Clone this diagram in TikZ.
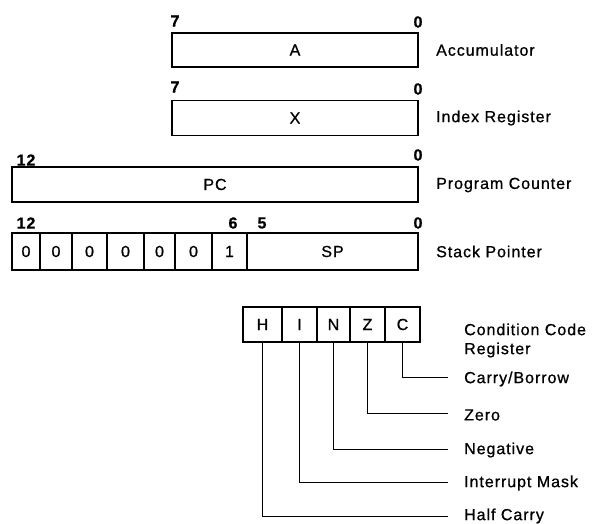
\documentclass[tikz,border=0pt]{standalone}
\usepackage{fontspec}
\setmainfont{Liberation Sans}[LetterSpace=6,FakeBold=0.8]
\begin{document}
\begin{tikzpicture}[x=1pt,y=-1pt,
  txt/.style={font=\fontsize{16}{19}\selectfont, inner sep=0pt},
  bitnum/.style={font=\fontsize{16}{17}\selectfont\bfseries, inner sep=0pt},
  regbox/.style={draw, line width=1.8pt, inner sep=0pt, font=\fontsize{16}{17}\selectfont, anchor=center},
  lbl/.style={txt, anchor=west, align=left},
  lead/.style={line width=0.9pt}]
\useasboundingbox (0,0) rectangle (592,524);

% Accumulator
\node[regbox, minimum width=246pt, minimum height=34pt] (A) at (295,50) {A};
\node[bitnum] (a7) at (175,21) {7};
\node[bitnum] (a0) at (418,22) {0};
\node[lbl] (accl) at (436,50) {Accumulator};

% Index register
\node[regbox, minimum width=246pt, minimum height=35pt] (X) at (295,118) {X};
\node[bitnum] (x7) at (175,87) {7};
\node[bitnum] (x0) at (418,89) {0};
\node[lbl] (xl) at (436,118) {Index Register};

% Program counter
\node[regbox, minimum width=406pt, minimum height=35pt] (PC) at (215,184.5) {PC};
\node[bitnum] (p12) at (26,160) {12};
\node[bitnum] (p0) at (418,155) {0};
\node[lbl] (pcl) at (436,185) {Program Counter};

% Stack pointer
\node[regbox, minimum width=28pt, minimum height=37pt] (s1) at (26,251.5) {0};
\node[regbox, minimum width=32pt, minimum height=37pt] (s2) at (56,251.5) {0};
\node[regbox, minimum width=35pt, minimum height=37pt] (s3) at (89.5,251.5) {0};
\node[regbox, minimum width=37pt, minimum height=37pt] (s4) at (125.5,251.5) {0};
\node[regbox, minimum width=31pt, minimum height=37pt] (s5) at (159.5,251.5) {0};
\node[regbox, minimum width=37pt, minimum height=37pt] (s6) at (193.5,251.5) {0};
\node[regbox, minimum width=35pt, minimum height=37pt] (s7) at (229.5,251.5) {1};
\node[regbox, minimum width=171pt, minimum height=37pt] (SP) at (332.5,251.5) {SP};
\node[bitnum] (s12) at (26,223) {12};
\node[bitnum] (s6n) at (233,223) {6};
\node[bitnum] (s5n) at (262,223) {5};
\node[bitnum] (s0n) at (418,223) {0};
\node[lbl] (spl) at (436,251.5) {Stack Pointer};

% Condition code register
\node[regbox, minimum width=39pt, minimum height=35pt] (H) at (262.5,324.5) {H};
\node[regbox, minimum width=35pt, minimum height=35pt] (I) at (299.5,324.5) {I};
\node[regbox, minimum width=33pt, minimum height=35pt] (N) at (333.5,324.5) {N};
\node[regbox, minimum width=35pt, minimum height=35pt] (Z) at (367.5,324.5) {Z};
\node[regbox, minimum width=35pt, minimum height=35pt] (C) at (402.5,324.5) {C};
\node[lbl] (ccr) at (464,340.5) {Condition Code\\Register};

\coordinate (ce) at (448,377);
\coordinate (ze) at (448,413);
\coordinate (ne) at (448,449);
\coordinate (ie) at (448,482);
\coordinate (he) at (448,516);
\draw[lead] (C.south) |- (ce);
\draw[lead] (Z.south) |- (ze);
\draw[lead] (N.south) |- (ne);
\draw[lead] (I.south) |- (ie);
\draw[lead] (H.south) |- (he);
\node[lbl] (cl) at (464,379) {Carry/Borrow};
\node[lbl] (zl) at (464,415) {Zero};
\node[lbl] (nl) at (464,450) {Negative};
\node[lbl] (il) at (464,483) {Interrupt Mask};
\node[lbl] (hl) at (464,516) {Half Carry};
\end{tikzpicture}
\end{document}
